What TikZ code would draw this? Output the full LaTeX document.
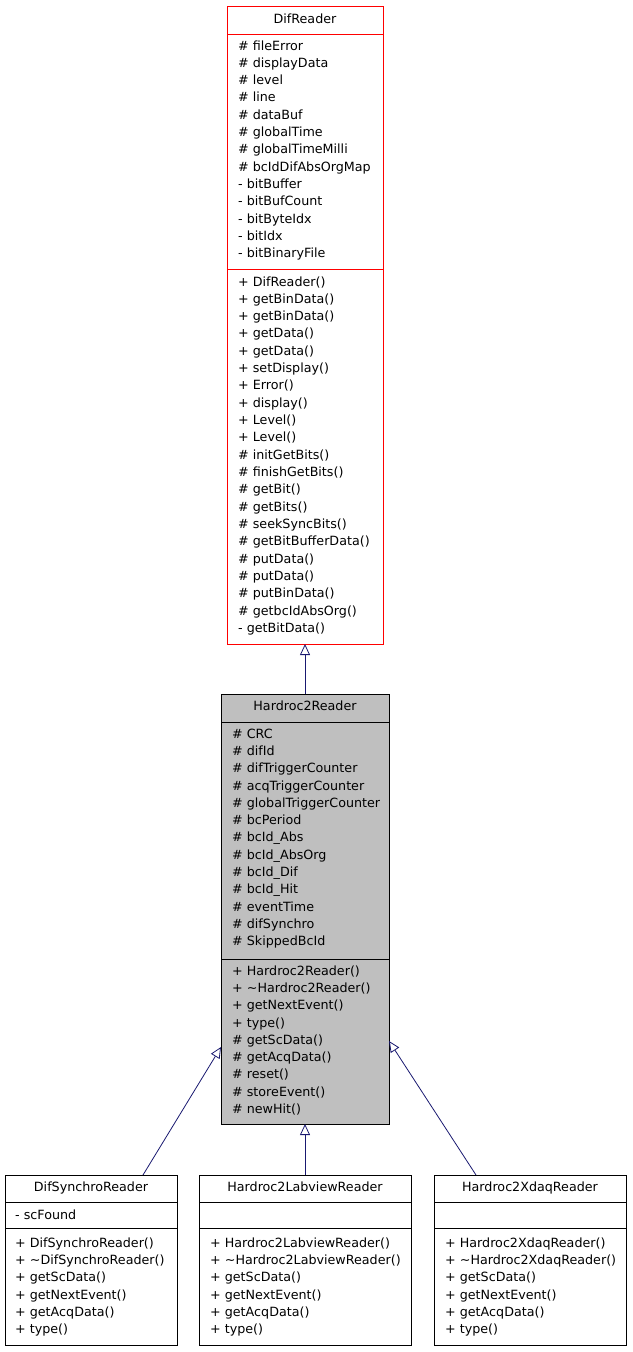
\documentclass[tikz,border=0pt]{standalone}
\usepackage{fontspec}
\setmainfont{DejaVu Sans}
\usetikzlibrary{arrows.meta}
\definecolor{edge}{HTML}{191970}
\tikzset{x=1pt,y=-1pt,
 cls/.style={draw=black,line width=0.8pt},
 mem/.style={anchor=base west,inner sep=0pt,font=\fontsize{12.7}{14}\selectfont},
 ttl/.style={anchor=base,inner sep=0pt,font=\fontsize{12.7}{14}\selectfont},
 inh/.style={draw=edge,line width=0.8pt,-{Triangle[open,length=11pt,width=10pt]}}}
\newcommand{\memlist}[3]{\foreach \t [count=\i from 0] in {#3} {\node[mem] at (#1,{#2+17.33*\i}) {\t};}}
\newcommand{\tld}{\char126{}}
\begin{document}
\begin{tikzpicture}
\useasboundingbox (0,0) rectangle (632,1352);
% DifReader
\draw[cls,draw=red] (227,6) rectangle (383,644);
\draw[red,line width=0.8pt] (227,34)--(383,34) (227,269)--(383,269);
\node[ttl] at (305,23) {DifReader};
\memlist{238}{50}{\# fileError,\# displayData,\# level,\# line,\# dataBuf,\# globalTime,\# globalTimeMilli,\# bcIdDifAbsOrgMap,- bitBuffer,- bitBufCount,- bitByteIdx,- bitIdx,- bitBinaryFile}
\memlist{238}{286}{+ DifReader(),+ getBinData(),+ getBinData(),+ getData(),+ getData(),+ setDisplay(),+ Error(),+ display(),+ Level(),+ Level(),\# initGetBits(),\# finishGetBits(),\# getBit(),\# getBits(),\# seekSyncBits(),\# getBitBufferData(),\# putData(),\# putData(),\# putBinData(),\# getbcIdAbsOrg(),- getBitData()}
\coordinate (difbot) at (305,644);
% Hardroc2Reader
\draw[cls,fill={rgb,255:red,191;green,191;blue,191}] (221,694) rectangle (389,1124);
\draw[line width=0.8pt] (221,722)--(389,722) (221,959)--(389,959);
\node[ttl] at (305,710) {Hardroc2Reader};
\memlist{232}{738}{\# CRC,\# difId,\# difTriggerCounter,\# acqTriggerCounter,\# globalTriggerCounter,\# bcPeriod,\# bcId\_Abs,\# bcId\_AbsOrg,\# bcId\_Dif,\# bcId\_Hit,\# eventTime,\# difSynchro,\# SkippedBcId}
\memlist{232}{975}{+ Hardroc2Reader(),+ \tld Hardroc2Reader(),+ getNextEvent(),+ type(),\# getScData(),\# getAcqData(),\# reset(),\# storeEvent(),\# newHit()}
\coordinate (hrtop) at (305,694);
\coordinate (hrbot) at (305,1124);
\coordinate (hrl) at (221,1047);
\coordinate (hrr) at (389,1041);
% bottom boxes
\foreach \a/\b in {5/177,199/411,434/626}{
 \draw[cls] (\a,1175) rectangle (\b,1345);
 \draw[line width=0.8pt] (\a,1202)--(\b,1202) (\a,1228)--(\b,1228);}
\node[ttl] at (91,1191) {DifSynchroReader};
\node[ttl] at (305,1191) {Hardroc2LabviewReader};
\node[ttl] at (530,1191) {Hardroc2XdaqReader};
\memlist{15}{1219}{- scFound}
\memlist{15}{1247}{+ DifSynchroReader(),+ \tld DifSynchroReader(),+ getScData(),+ getNextEvent(),+ getAcqData(),+ type()}
\memlist{210}{1247}{+ Hardroc2LabviewReader(),+ \tld Hardroc2LabviewReader(),+ getScData(),+ getNextEvent(),+ getAcqData(),+ type()}
\memlist{445}{1247}{+ Hardroc2XdaqReader(),+ \tld Hardroc2XdaqReader(),+ getScData(),+ getNextEvent(),+ getAcqData(),+ type()}
\coordinate (ds) at (143,1175);
\coordinate (lv) at (305,1175);
\coordinate (xd) at (476,1175);
\draw[inh] (hrtop)--(difbot);
\draw[inh] (ds)--(hrl);
\draw[inh] (lv)--(hrbot);
\draw[inh] (xd)--(hrr);
\end{tikzpicture}
\end{document}
